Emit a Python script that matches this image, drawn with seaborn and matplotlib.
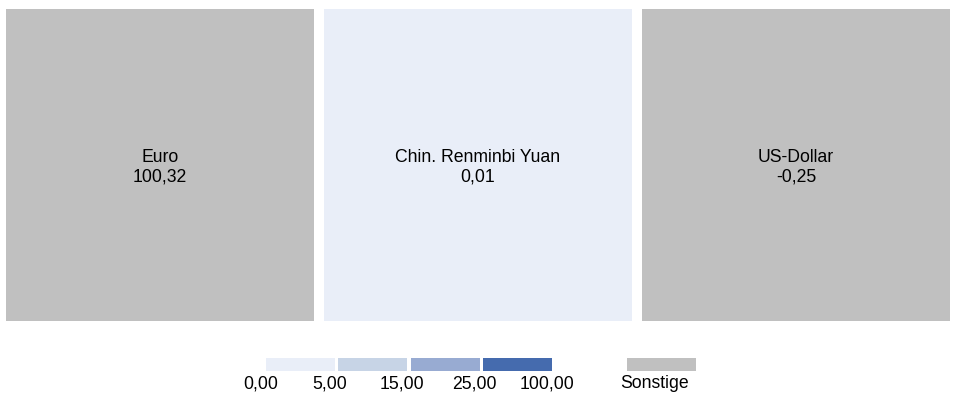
import numpy as np
import matplotlib
matplotlib.use("Agg")
import matplotlib.pyplot as plt
from matplotlib.colors import ListedColormap
import seaborn as sns

# ---- data ----
currencies = ["Euro", "Chin. Renminbi Yuan", "US-Dollar"]
values = [100.32, 0.01, -0.25]
bin_edges = [0, 5, 15, 25, 100]
bin_labels = ["0,00", "5,00", "15,00", "25,00", "100,00"]
other_label = "Sonstige"
bin_colors = ["#E9EEF8", "#C7D4E6", "#98ABD2", "#456BAE"]
other_color = "#C0C0C0"

sns.set_theme(style="white")
plt.rcParams["font.family"] = ["Liberation Sans", "DejaVu Sans"]

W, H, DPI = 955, 394, 100
fig = plt.figure(figsize=(W / DPI, H / DPI), dpi=DPI)

def classify(v):
    for i in range(len(bin_edges) - 1):
        if bin_edges[i] <= v < bin_edges[i + 1]:
            return i
    return len(bin_edges) - 1  # Sonstige

def fmt_de(v):
    return f"{v:.2f}".replace(".", ",")

cls = np.array([[classify(v) for v in values]], dtype=float)
annot = np.array([[f"{c}\n{fmt_de(v)}" for c, v in zip(currencies, values)]])
cmap = ListedColormap(bin_colors + [other_color])

# main tiles axis (pixel layout)
ax = fig.add_axes([1 / W, (H - 326) / H, 954 / W, 322 / H])
sns.heatmap(cls, ax=ax, cmap=cmap, vmin=-0.5, vmax=len(bin_colors) + 0.5,
            cbar=False, annot=annot, fmt="", linewidths=7.2, linecolor="white",
            annot_kws={"color": "black", "fontsize": 12.7, "linespacing": 1.2},
            xticklabels=False, yticklabels=False)
ax.set_xlabel("")
ax.set_ylabel("")
for t in ax.texts:
    x, y = t.get_position()
    t.set_position((x, y + 0.007))

# legend axis in pixel coordinates
lax = fig.add_axes([0, 0, 1, 1])
lax.set_xlim(0, W)
lax.set_ylim(H, 0)
lax.axis("off")
sw_left, sw_w, sw_step, sw_top, sw_h = 266, 69, 72.3, 358, 13
for i, col in enumerate(bin_colors):
    lax.bar(sw_left + i * sw_step, sw_h, width=sw_w, bottom=sw_top, align="edge",
            color=col, edgecolor="none")
for i, lab in enumerate(bin_labels):
    x = sw_left + i * sw_step - 1.5 * (i > 0) - 7 + (1.5 if i == 0 else 0)
    lax.text(x, 384, lab, ha="center", va="center", fontsize=12.7, color="black")
lax.bar(627, sw_h, width=sw_w, bottom=sw_top, align="edge", color=other_color, edgecolor="none")
lax.text(654, 384, other_label, ha="center", va="center", fontsize=12.7, color="black")

fig.savefig("out.png", dpi=DPI, facecolor="white")
